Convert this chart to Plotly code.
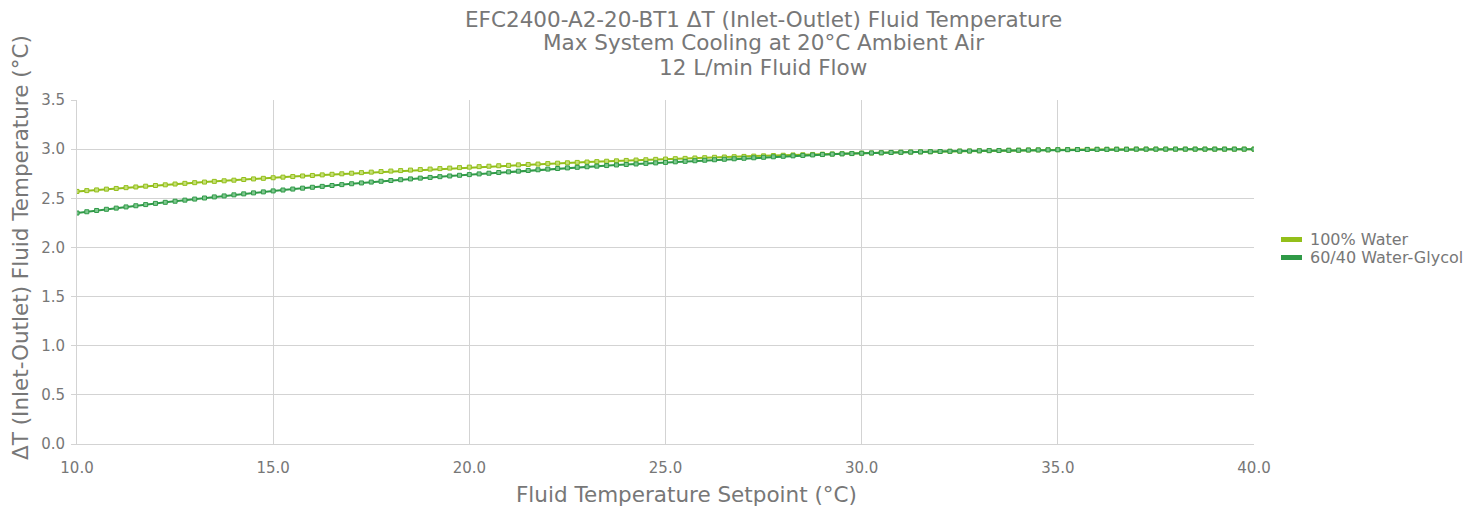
import plotly.graph_objects as go

setpoint = [10 + 0.25 * i for i in range(121)]

water_100 = [
    2.570, 2.578, 2.585, 2.593,
    2.600, 2.608, 2.615, 2.623,
    2.630, 2.637, 2.645, 2.652,
    2.659, 2.665, 2.672, 2.678,
    2.684, 2.691, 2.697, 2.703,
    2.709, 2.715, 2.721, 2.727,
    2.732, 2.738, 2.744, 2.749,
    2.755, 2.761, 2.766, 2.772,
    2.777, 2.782, 2.787, 2.792,
    2.797, 2.802, 2.807, 2.812,
    2.817, 2.822, 2.826, 2.831,
    2.835, 2.840, 2.844, 2.848,
    2.853, 2.857, 2.861, 2.865,
    2.869, 2.873, 2.877, 2.881,
    2.885, 2.889, 2.892, 2.896,
    2.899, 2.903, 2.906, 2.910,
    2.913, 2.917, 2.920, 2.923,
    2.926, 2.929, 2.932, 2.935,
    2.938, 2.941, 2.943, 2.946,
    2.949, 2.951, 2.954, 2.956,
    2.959, 2.961, 2.963, 2.966,
    2.968, 2.970, 2.972, 2.974,
    2.976, 2.978, 2.980, 2.981,
    2.983, 2.985, 2.986, 2.988,
    2.989, 2.991, 2.992, 2.993,
    2.994, 2.995, 2.996, 2.997,
    2.998, 2.998, 2.999, 2.999,
    3.000, 3.000, 3.000, 3.000,
    3.000, 3.000, 3.000, 3.000,
    3.000, 3.000, 3.000, 3.000,
    3.000,
]

water_glycol_60_40 = [
    2.350, 2.363, 2.376, 2.388,
    2.400, 2.412, 2.424, 2.436,
    2.448, 2.459, 2.470, 2.481,
    2.492, 2.503, 2.514, 2.524,
    2.535, 2.545, 2.555, 2.565,
    2.575, 2.584, 2.594, 2.603,
    2.612, 2.621, 2.630, 2.639,
    2.648, 2.656, 2.665, 2.673,
    2.681, 2.689, 2.697, 2.705,
    2.712, 2.720, 2.727, 2.734,
    2.741, 2.748, 2.755, 2.762,
    2.769, 2.776, 2.783, 2.790,
    2.797, 2.803, 2.809, 2.815,
    2.821, 2.827, 2.833, 2.839,
    2.844, 2.849, 2.855, 2.860,
    2.865, 2.871, 2.876, 2.882,
    2.887, 2.892, 2.897, 2.902,
    2.907, 2.912, 2.917, 2.922,
    2.927, 2.932, 2.936, 2.941,
    2.945, 2.949, 2.952, 2.955,
    2.958, 2.961, 2.963, 2.966,
    2.968, 2.970, 2.972, 2.974,
    2.976, 2.978, 2.980, 2.981,
    2.983, 2.985, 2.986, 2.988,
    2.989, 2.991, 2.992, 2.993,
    2.994, 2.995, 2.996, 2.997,
    2.998, 2.998, 2.999, 2.999,
    3.000, 3.000, 3.000, 3.000,
    3.000, 3.000, 3.000, 3.000,
    3.000, 3.000, 3.000, 3.000,
    3.000,
]

series_names = ["100% Water", "60/40 Water-Glycol"]
x_ticks = [10, 15, 20, 25, 30, 35, 40]
y_ticks = [0, 0.5, 1.0, 1.5, 2.0, 2.5, 3.0, 3.5]

title_lines = [
    "EFC2400-A2-20-BT1 ΔT (Inlet-Outlet) Fluid Temperature",
    "Max System Cooling at 20°C Ambient Air",
    "12 L/min Fluid Flow",
]
x_title = "Fluid Temperature Setpoint (°C)"
y_title = "ΔT (Inlet-Outlet) Fluid Temperature (°C)"

colors = ["#93bf1a", "#2f9a47"]
fills = ["#c6e07a", "#80c890"]
text_color = "#777777"
grid_color = "#d3d3d3"
font_family = "DejaVu Sans"

# figure geometry (page body adds an 8px offset)
OFF = 8
W, H = 1463, 504
L, R, T, B = 69, 217, 92, 68
plot_w = W - L - R
plot_h = H - T - B


def px(sx):
    return (sx - OFF - L) / plot_w


def py(sy):
    return 1 - (sy - OFF - T) / plot_h


fig = go.Figure()
for name, ys, c, f in zip(series_names, [water_100, water_glycol_60_40], colors, fills):
    fig.add_trace(go.Scatter(
        x=setpoint, y=ys, mode="lines+markers", name=name, showlegend=False,
        line=dict(color=c, width=2),
        marker=dict(symbol="square", size=4, color=f, line=dict(color=c, width=1)),
    ))

# title rows
for line, cy in zip(title_lines, [19, 43, 67]):
    fig.add_annotation(
        text=line, xref="paper", yref="paper", x=px(763), y=py(cy),
        xanchor="center", yanchor="middle", showarrow=False,
        font=dict(size=21.5, color=text_color, family=font_family),
    )

# axis titles
fig.add_annotation(
    text=x_title, xref="paper", yref="paper", x=px(686), y=py(494),
    xanchor="center", yanchor="middle", showarrow=False,
    font=dict(size=21.5, color=text_color, family=font_family),
)
fig.add_annotation(
    text=y_title, xref="paper", yref="paper", x=px(20.5), y=py(247.5),
    xanchor="center", yanchor="middle", showarrow=False, textangle=-90,
    font=dict(size=21.5, color=text_color, family=font_family),
)

# legend
for name, c, cy in zip(series_names, colors, [239.5, 257.5]):
    fig.add_shape(
        type="line", xref="paper", yref="paper",
        x0=px(1281), x1=px(1302), y0=py(cy), y1=py(cy),
        line=dict(color=c, width=5),
    )
    fig.add_annotation(
        text=name, xref="paper", yref="paper", x=px(1308), y=py(cy),
        xanchor="left", yanchor="middle", showarrow=False,
        font=dict(size=16, color=text_color, family=font_family),
    )

fig.update_layout(
    width=W, height=H,
    margin=dict(l=L, r=R, t=T, b=B, autoexpand=False),
    paper_bgcolor="white", plot_bgcolor="white",
    font=dict(family=font_family, color=text_color, size=15),
    showlegend=False,
    xaxis=dict(
        range=[10, 40], tickvals=x_ticks, ticktext=[f"{v:.1f}" for v in x_ticks],
        showgrid=True, gridcolor=grid_color, gridwidth=1,
        showline=True, linecolor=grid_color, linewidth=1,
        ticks="", zeroline=False, ticklabelstandoff=10,
        tickfont=dict(size=15), automargin=False,
    ),
    yaxis=dict(
        range=[0, 3.5], tickvals=y_ticks, ticktext=[f"{v:.1f}" for v in y_ticks],
        showgrid=True, gridcolor=grid_color, gridwidth=1,
        showline=True, linecolor=grid_color, linewidth=1,
        ticks="outside", ticklen=5, tickcolor=grid_color, zeroline=False,
        ticklabelstandoff=3,
        tickfont=dict(size=15), automargin=False,
    ),
)

fig.write_html("out.html")
